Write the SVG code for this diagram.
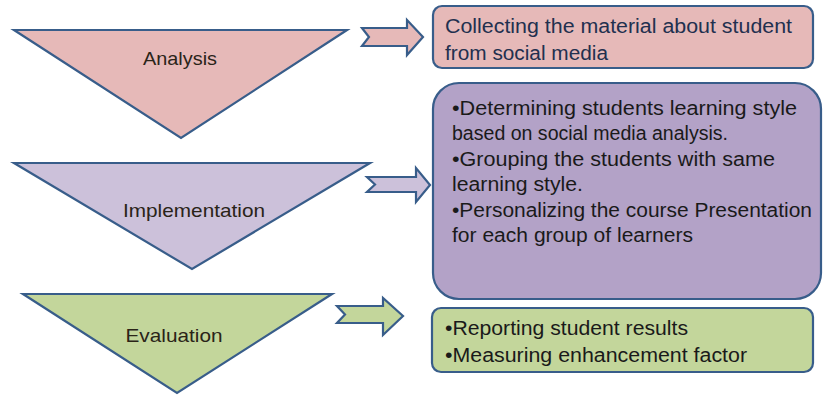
<svg xmlns="http://www.w3.org/2000/svg" width="823" height="395" viewBox="0 0 823 395">
<style>
.sh{stroke:#385d8a;stroke-width:2.2;stroke-linejoin:miter}
.pink{fill:#e6b9b8}
.lav{fill:#ccc1da}
.pur{fill:#b3a2c7}
.grn{fill:#c3d69b}
.lbl{font-family:"Liberation Sans",Arial,sans-serif;font-size:19px;fill:#2a2418;text-anchor:middle}
.bt{font-family:"Liberation Sans",Arial,sans-serif;font-size:20px;fill:#1a1a1a}
.b1{fill:#22304f}
</style>
<rect width="823" height="395" fill="#ffffff"/>
<g id="analysis">
<polygon class="sh pink" points="14,30 347,30 181,138"/>
<text class="lbl" x="180" y="65" textLength="74" lengthAdjust="spacingAndGlyphs">Analysis</text>
</g>
<g id="implementation">
<polygon class="sh lav" points="14,163 370,163 192,269"/>
<text class="lbl" x="194" y="217" textLength="142" lengthAdjust="spacingAndGlyphs">Implementation</text>
</g>
<g id="evaluation">
<polygon class="sh grn" points="23,294 332,294 177,393"/>
<text class="lbl" x="174" y="342" textLength="97" lengthAdjust="spacingAndGlyphs">Evaluation</text>
</g>
<g id="box-collecting">
<rect class="sh pink" x="433" y="6" width="380" height="62" rx="9" stroke-width="2.5"/>
<text class="bt b1" x="445" y="33" textLength="347" lengthAdjust="spacingAndGlyphs">Collecting the material about student</text>
<text class="bt b1" x="445" y="60" textLength="163" lengthAdjust="spacingAndGlyphs">from social media</text>
</g>
<g id="box-implementation">
<rect class="sh pur" x="433" y="83" width="388" height="216" rx="26" stroke-width="2.5"/>
<text class="bt" x="452" y="115" textLength="345" lengthAdjust="spacingAndGlyphs">•Determining  students  learning style</text>
<text class="bt" x="452" y="140" textLength="276" lengthAdjust="spacingAndGlyphs">based on social media analysis.</text>
<text class="bt" x="452" y="166" textLength="323" lengthAdjust="spacingAndGlyphs">•Grouping the students  with same</text>
<text class="bt" x="452" y="191" textLength="131" lengthAdjust="spacingAndGlyphs">learning style.</text>
<text class="bt" x="452" y="217" textLength="360" lengthAdjust="spacingAndGlyphs">•Personalizing the course Presentation</text>
<text class="bt" x="452" y="242" textLength="241" lengthAdjust="spacingAndGlyphs">for each group of learners</text>
</g>
<g id="box-evaluation">
<rect class="sh grn" x="432" y="308" width="381" height="64" rx="9" stroke-width="2.5"/>
<text class="bt" x="445" y="335" textLength="243" lengthAdjust="spacingAndGlyphs">•Reporting student  results</text>
<text class="bt" x="445" y="362" textLength="302" lengthAdjust="spacingAndGlyphs">•Measuring enhancement  factor</text>
</g>
<g id="connectors">
<polygon class="sh pink" points="362,28 407,28 407,20 423,37 407,55 407,46 362,46 369,37"/>
<polygon class="sh lav" points="367,177 416,177 416,168 430,185 416,202 416,192 367,192 375,184.5"/>
<polygon class="sh grn" points="337,306 383,306 383,298 403,316 383,335 383,323 337,323 345,314.5"/>
</g>
</svg>
